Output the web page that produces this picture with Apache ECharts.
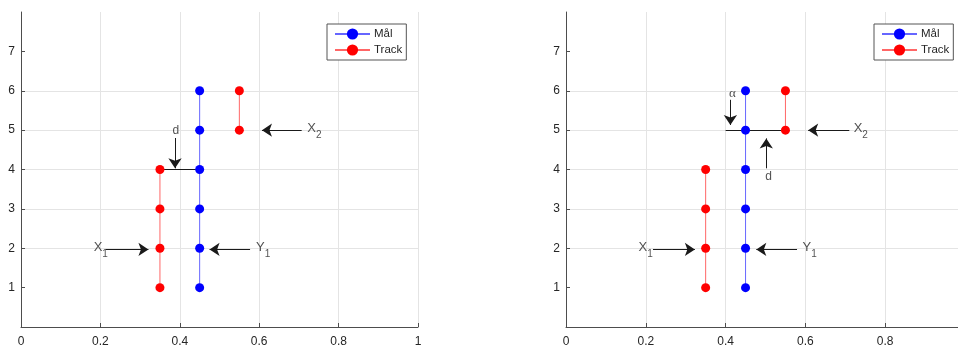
<!DOCTYPE html>
<html>
<head>
<meta charset="utf-8">
<script src="https://cdn.jsdelivr.net/npm/echarts@6/dist/echarts.min.js"></script>
<style>
  html, body { margin: 0; padding: 0; background: #fff; }
  #chart { width: 958px; height: 345px; }
</style>
</head>
<body>
<div id="chart"></div>
<script>
// Target (Mål) positions
const malX = [0.45, 0.45, 0.45, 0.45, 0.45, 0.45];
const malY = [1, 2, 3, 4, 5, 6];
// Track positions; null splits the track into two segments
const trackX = [0.35, 0.35, 0.35, 0.35, null, 0.55, 0.55];
const trackY = [1, 2, 3, 4, null, 5, 6];

// Axis ticks (the right panel's x range runs past the page edge, so its last label is not drawn)
const xTickValuesLeft = [0, 0.2, 0.4, 0.6, 0.8, 1];
const xTickValuesRight = [0, 0.2, 0.4, 0.6, 0.8];
const yTickValues = [1, 2, 3, 4, 5, 6, 7];

// Annotations, left panel (data coordinates)
const leftSpan = [[0.35, 4], [0.45, 4]];
const leftArrows = [
  [[0.388, 4.80], [0.388, 4.03]],
  [[0.213, 1.97], [0.321, 1.97]],
  [[0.577, 1.97], [0.475, 1.97]],
  [[0.707, 5.00], [0.607, 5.00]]
];
const leftLabelText = ['d', 'X1', 'Y1', 'X2'];
const leftLabelPos = [[0.39, 4.99], [0.183, 2.03], [0.592, 2.03], [0.721, 5.05]];

// Annotations, right panel (data coordinates)
const rightSpan = [[0.40, 5], [0.55, 5]];
const rightArrows = [
  [[0.412, 5.77], [0.412, 5.13]],
  [[0.502, 4.03], [0.502, 4.79]],
  [[0.218, 1.97], [0.323, 1.97]],
  [[0.579, 1.97], [0.477, 1.97]],
  [[0.710, 5.00], [0.607, 5.00]]
];
const rightLabelText = ['α', 'd', 'X1', 'Y1', 'X2'];
const rightLabelPos = [[0.417, 5.94], [0.508, 3.81], [0.182, 2.03], [0.593, 2.03], [0.721, 5.05]];

const FONT = '"Liberation Sans", Arial, Helvetica, sans-serif';
const TEXT = '#262626';
const AXIS = '#4d4d4d';
const GRIDLINE = '#e4e4e4';
const BLUE = '#0000ff';
const RED = '#ff0000';

const pairs = (xs, ys) => xs.map((x, i) => (x === null ? ['-', '-'] : [x, ys[i]]));

function xAxis(gridIndex, ticks) {
  return {
    type: 'value', gridIndex, min: 0, max: 1, interval: 0.2,
    axisLine: { show: true, onZero: false, lineStyle: { color: AXIS, width: 1 } },
    axisTick: { show: true, inside: true, length: 4, lineStyle: { color: AXIS } },
    axisLabel: {
      color: TEXT, fontFamily: FONT, fontSize: 12, margin: 9,
      formatter: v => (ticks.some(t => Math.abs(t - v) < 1e-9) ? String(+v.toFixed(1)) : '')
    },
    splitLine: { show: true, showMinLine: false, showMaxLine: true, lineStyle: { color: GRIDLINE, width: 1 } }
  };
}

function yAxis(gridIndex) {
  return {
    type: 'value', gridIndex, min: 0, max: 8, interval: 1,
    axisLine: { show: true, onZero: false, lineStyle: { color: AXIS, width: 1 } },
    axisTick: { show: true, inside: true, length: 4, lineStyle: { color: AXIS }, customValues: yTickValues },
    axisLabel: { color: TEXT, fontFamily: FONT, fontSize: 12, margin: 6, customValues: yTickValues },
    splitLine: { show: true, showMinLine: false, showMaxLine: false, lineStyle: { color: GRIDLINE, width: 1 } }
  };
}

function dataSeries(idx) {
  return [
    {
      name: 'Mål', type: 'line', xAxisIndex: idx, yAxisIndex: idx,
      data: pairs(malX, malY),
      symbol: 'circle', symbolSize: 9,
      itemStyle: { color: BLUE },
      lineStyle: { color: BLUE, width: 1, opacity: 0.6 },
      z: 5
    },
    {
      name: 'Track', type: 'line', xAxisIndex: idx, yAxisIndex: idx,
      data: pairs(trackX, trackY),
      connectNulls: false,
      symbol: 'circle', symbolSize: 9,
      itemStyle: { color: RED },
      lineStyle: { color: RED, width: 1, opacity: 0.6 },
      z: 5
    }
  ];
}

function annotationSeries(idx, span, arrows, texts, positions) {
  const lines = [[{ coord: span[0], symbol: 'none' }, { coord: span[1], symbol: 'none' }]]
    .concat(arrows.map(a => [{ coord: a[0] }, { coord: a[1] }]));
  const labelData = texts.map((t, i) => {
    const sub = t.length === 2 && /[0-9]/.test(t[1]);
    return {
      value: positions[i],
      label: sub
        ? { formatter: '{m|' + t[0] + '}{s|' + t[1] + '}', position: [0, 0], align: 'left', verticalAlign: 'middle' }
        : {
            formatter: t, position: [0, 0], align: 'center', verticalAlign: 'middle',
            fontFamily: t === 'α' ? '"Liberation Serif", "DejaVu Serif", serif' : FONT,
            fontSize: t === 'α' ? 13 : 12
          }
    };
  });
  return [
    {
      name: 'annot-lines-' + idx, type: 'line', xAxisIndex: idx, yAxisIndex: idx,
      data: [], silent: true, z: 2,
      markLine: {
        silent: true, animation: false,
        symbol: ['none', 'arrow'], symbolSize: 10,
        label: { show: false },
        lineStyle: { color: '#1a1a1a', width: 1, type: 'solid' },
        data: lines
      }
    },
    {
      name: 'annot-text-' + idx, type: 'scatter', xAxisIndex: idx, yAxisIndex: idx,
      symbolSize: 0, silent: true, z: 6,
      label: {
        show: true, color: TEXT, fontFamily: FONT, fontSize: 12,
        rich: {
          m: { fontFamily: FONT, fontSize: 13, color: TEXT, lineHeight: 24 },
          s: { fontFamily: FONT, fontSize: 10, color: TEXT, lineHeight: 10, verticalAlign: 'bottom' }
        }
      },
      data: labelData
    }
  ];
}

function legend(left) {
  return {
    data: ['Mål', 'Track'], orient: 'vertical', left, top: 24,
    itemWidth: 35, itemHeight: 14, itemGap: 4,
    padding: [4, 4, 4, 7],
    backgroundColor: '#fff', borderColor: '#555', borderWidth: 1, borderRadius: 0,
    textStyle: { color: TEXT, fontFamily: FONT, fontSize: 11.5, padding: [0, 0, 0, -1] },
    selectedMode: false
  };
}

const chart = echarts.init(document.getElementById('chart'), null, { renderer: 'canvas' });
chart.setOption({
  animation: false,
  backgroundColor: '#fff',
  grid: [
    { left: 21, right: 540, top: 12, bottom: 18, containLabel: false, outerBoundsMode: 'none' },
    { left: 566, right: -7, top: 12, bottom: 18, containLabel: false, outerBoundsMode: 'none' }
  ],
  legend: [legend(327), legend(874)],
  xAxis: [xAxis(0, xTickValuesLeft), xAxis(1, xTickValuesRight)],
  yAxis: [yAxis(0), yAxis(1)],
  series: [].concat(
    dataSeries(0), dataSeries(1),
    annotationSeries(0, leftSpan, leftArrows, leftLabelText, leftLabelPos),
    annotationSeries(1, rightSpan, rightArrows, rightLabelText, rightLabelPos)
  )
});
</script>
</body>
</html>
